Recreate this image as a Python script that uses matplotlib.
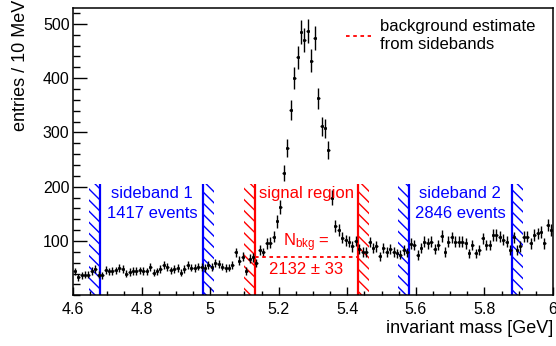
import matplotlib

matplotlib.use("Agg")
import matplotlib.pyplot as plt
import numpy as np
from matplotlib.patches import Rectangle
from matplotlib.ticker import FuncFormatter, MultipleLocator

plt.rcParams["font.family"] = ["Liberation Sans", "DejaVu Sans"]
plt.rcParams["mathtext.default"] = "regular"
plt.rcParams["hatch.linewidth"] = 1.0

# histogram: 10 MeV bins from 4.6 to 6.0 GeV
mass_lo = 4.6
bin_width = 0.01
counts = [
    44, 33, 37, 38, 38, 45, 48, 38,
    # sideband 1
    37, 47, 44, 45, 46, 50, 49, 40, 43, 45,
    45, 46, 45, 44, 52, 42, 44, 49, 55, 52,
    46, 48, 50, 42, 49, 56, 51, 50, 53, 52,
    50, 55, 52, 60, 57, 53, 50, 51, 56, 79, 64, 71, 45, 67, 70,
    # signal region
    59, 83, 79, 96, 97, 108, 136, 163, 225, 271,
    342, 400, 438, 485, 470, 487, 432, 474, 363, 311,
    308, 268, 180, 128, 121, 106, 101, 99, 90, 100,
    86, 80, 80, 98, 87, 90, 72, 87, 80, 86, 80, 77, 75, 84, 79,
    # sideband 2
    95, 93, 74, 87, 99, 96, 99, 85, 93, 109,
    80, 99, 107, 99, 99, 99, 96, 77, 93, 77,
    84, 105, 93, 93, 111, 111, 108, 102, 99, 84,
    107, 84, 90, 108, 108, 96, 111, 114, 117, 96, 130, 120,
]

sideband_1 = (4.68, 4.98)
signal_window = (5.13, 5.43)
sideband_2 = (5.58, 5.88)
events_sb1 = 1417
events_sb2 = 2846
n_bkg = 2132
n_bkg_err = 33

counts = np.array(counts, dtype=float)
centers = mass_lo + bin_width * (np.arange(len(counts)) + 0.5)
bkg_per_bin = n_bkg / round((signal_window[1] - signal_window[0]) / bin_width)

fig = plt.figure(figsize=(5.56, 3.46), dpi=100)
ax = fig.add_axes([0.1313, 0.1465, 0.8633, 0.8318])

hatch_w = 0.032
band_top = 205
for (lo, hi), col in [(sideband_1, "blue"), (signal_window, "red"), (sideband_2, "blue")]:
    for x0 in (lo - hatch_w, hi):
        ax.add_patch(Rectangle((x0, 0), hatch_w, band_top, facecolor="none",
                               edgecolor=col, hatch="\\\\\\", linewidth=0))
    ax.vlines([lo, hi], 0, band_top, color=col, lw=1.6)

ax.errorbar(centers, counts, yerr=np.sqrt(counts), xerr=0.4 * bin_width,
            fmt="s", ms=1.1, color="black", ecolor="black", elinewidth=1.0, capsize=0)

ax.hlines(bkg_per_bin, signal_window[0], signal_window[1], color="red",
          linestyles=(0, (2, 2)), lw=1.3, label="background estimate\nfrom sidebands")

fs = 12
ax.text(np.mean(sideband_1), 188, "sideband 1", color="blue", fontsize=fs, ha="center", va="center")
ax.text(np.mean(sideband_1), 150, f"{events_sb1} events", color="blue", fontsize=fs, ha="center", va="center")
ax.text(np.mean(sideband_2), 188, "sideband 2", color="blue", fontsize=fs, ha="center", va="center")
ax.text(np.mean(sideband_2), 150, f"{events_sb2} events", color="blue", fontsize=fs, ha="center", va="center")
ax.text(np.mean(signal_window), 188, "signal region", color="red", fontsize=fs, ha="center", va="center")
ax.text(np.mean(signal_window), 97, r"N$_{bkg}$ =", color="red", fontsize=fs, ha="center", va="center")
ax.text(np.mean(signal_window), 47, f"{n_bkg} ± {n_bkg_err}", color="red", fontsize=fs, ha="center", va="center")

ax.legend(loc="upper left", bbox_to_anchor=(0.545, 1.0), frameon=False, fontsize=fs,
          handlelength=1.5, handletextpad=0.5, borderaxespad=0.3)

ax.set_xlim(4.6, 6.0)
ax.set_ylim(0, 530)
ax.xaxis.set_major_locator(MultipleLocator(0.2))
ax.xaxis.set_minor_locator(MultipleLocator(0.05))
ax.xaxis.set_major_formatter(FuncFormatter(lambda v, p: f"{v:g}"))
ax.set_yticks([100, 200, 300, 400, 500])
ax.yaxis.set_minor_locator(MultipleLocator(20))

ax.tick_params(axis="both", which="both", direction="in", labelsize=11.5, width=1)
ax.tick_params(axis="y", which="major", length=10, pad=2.5)
ax.tick_params(axis="y", which="minor", length=5)
ax.tick_params(axis="x", which="major", length=6, pad=4.5)
ax.tick_params(axis="x", which="minor", length=3)
for s in ax.spines.values():
    s.set_linewidth(1.1)

ax.text(-0.11, 1.026, "entries / 10 MeV", transform=ax.transAxes, rotation=90,
        fontsize=13, ha="center", va="top")
ax.text(1.0, -0.115, "invariant mass [GeV]", transform=ax.transAxes,
        fontsize=13, ha="right", va="center")

fig.savefig("out.png", dpi=100)
plt.close(fig)
